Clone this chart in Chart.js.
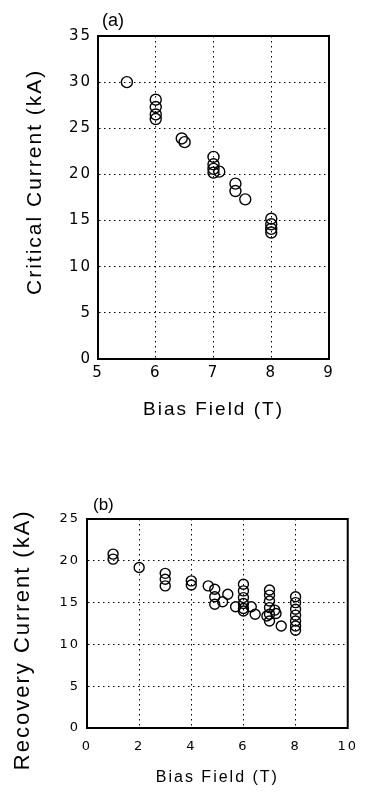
<!DOCTYPE html>
<html>
<head>
<meta charset="utf-8">
<script src="https://cdn.jsdelivr.net/npm/chart.js@4/dist/chart.umd.min.js"></script>
<style>
  html, body { margin: 0; padding: 0; background: #fff; }
  body { width: 367px; height: 795px; position: relative; overflow: hidden; }
  .wrap { position: absolute; left: 0; width: 367px; }
  #wa { top: 0; height: 430px; }
  #wb { top: 440px; height: 355px; }
</style>
</head>
<body>
<div class="wrap" id="wa"><canvas id="ca" width="367" height="430"></canvas></div>
<div class="wrap" id="wb"><canvas id="cb" width="367" height="355"></canvas></div>
<script>
// ---- Panel (a): critical current vs bias field ----
const critField   = [5.5, 6, 6, 6, 6, 6.45, 6.5, 7, 7, 7, 7, 7.1, 7.38, 7.38, 7.55, 8, 8, 8, 8];
const critCurrent = [30, 28.1, 27.3, 26.5, 26.0, 23.9, 23.5, 21.9, 21.1, 20.6, 20.2, 20.3, 19.0, 18.2, 17.3, 15.2, 14.6, 14.1, 13.7];
const critXTicks  = [5, 6, 7, 8, 9];
const critYTicks  = [0, 5, 10, 15, 20, 25, 30, 35];

// ---- Panel (b): recovery current vs bias field ----
const recField   = [1, 1, 2, 3, 3, 3, 4, 4, 4.65, 4.9, 4.9, 4.9, 5.2, 5.4, 5.7, 6, 6, 6, 6, 6, 6, 6.3, 6.45, 6.9, 7, 7, 7, 7, 7, 7, 7.2, 7.25, 7.45, 8, 8, 8, 8, 8, 8, 8];
const recCurrent = [20.8, 20.2, 19.2, 18.5, 17.8, 17.0, 17.6, 17.1, 17.0, 16.6, 15.7, 14.8, 15.1, 16.0, 14.5, 17.2, 16.4, 15.6, 14.9, 14.3, 14.0, 14.5, 13.6, 13.4, 16.5, 15.9, 15.2, 14.4, 13.6, 12.8, 14.1, 13.7, 12.2, 15.7, 15.0, 14.2, 13.5, 12.8, 12.2, 11.7];
const recXTicks  = [0, 2, 4, 6, 8, 10];
const recYTicks  = [0, 5, 10, 15, 20, 25];

const xTitle = 'Bias Field (T)';
const yTitleA = 'Critical Current (kA)';
const yTitleB = 'Recovery Current (kA)';

function pts(xs, ys) { return xs.map((x, i) => ({x: x, y: ys[i]})); }

const spacingPlugin = {
  id: 'spacing',
  beforeDraw(chart) { chart.ctx.letterSpacing = chart.options.plugins.spacing.titleLS; },
  afterDatasetsDraw(chart) { chart.ctx.letterSpacing = chart.options.plugins.spacing.tickLS; },
  afterDraw(chart) {
    const o = chart.options.plugins.spacing;
    const ctx = chart.ctx, a = chart.chartArea;
    ctx.save();
    ctx.letterSpacing = '0px';
    ctx.strokeStyle = '#000';
    ctx.lineWidth = 2;
    ctx.strokeRect(a.left, a.top, a.right - a.left, a.bottom - a.top);
    ctx.fillStyle = '#000';
    ctx.font = o.panelFont;
    ctx.textAlign = 'left';
    ctx.textBaseline = 'middle';
    ctx.fillText(o.panel, a.left + o.panelDX, a.top + o.panelDY);
    ctx.restore();
  }
};

function makeChart(id, cfg) {
  return new Chart(document.getElementById(id), {
    type: 'scatter',
    data: { datasets: [{
      data: pts(cfg.xs, cfg.ys),
      pointStyle: 'circle',
      pointRadius: cfg.r,
      pointHoverRadius: cfg.r,
      borderColor: '#000',
      backgroundColor: 'rgba(0,0,0,0)',
      borderWidth: 1.4
    }]},
    options: {
      responsive: false,
      animation: false,
      events: [],
      layout: { padding: cfg.pad },
      plugins: {
        legend: { display: false },
        tooltip: { enabled: false },
        spacing: cfg.sp
      },
      scales: {
        x: {
          type: 'linear', min: cfg.xTicks[0], max: cfg.xTicks[cfg.xTicks.length - 1],
          afterBuildTicks: s => { s.ticks = cfg.xTicks.map(v => ({value: v})); },
          afterFit: s => { s.height = cfg.xH; },
          grid: { color: '#000', lineWidth: 1, drawTicks: false },
          border: { color: '#000', width: 2, dash: [1.5, 3.5] },
          ticks: { color: '#000', padding: cfg.xPad, z: 1, maxRotation: 0,
                   font: { family: 'DejaVu Sans', size: cfg.xTickSize } },
          title: { display: true, text: xTitle, color: '#000',
                   font: { family: 'Liberation Sans', size: cfg.xTitleSize, lineHeight: 1 },
                   padding: { top: 0, bottom: cfg.xTitlePB } }
        },
        y: {
          type: 'linear', min: cfg.yTicks[0], max: cfg.yTicks[cfg.yTicks.length - 1],
          afterBuildTicks: s => { s.ticks = cfg.yTicks.map(v => ({value: v})); },
          afterFit: s => { s.width = cfg.yW; },
          grid: { color: '#000', lineWidth: 1, drawTicks: false },
          border: { color: '#000', width: 2, dash: [1.5, 3.5] },
          ticks: { color: '#000', padding: cfg.yPad, z: 1,
                   font: { family: 'DejaVu Sans', size: cfg.yTickSize } },
          title: { display: true, text: cfg.yTitle, color: '#000',
                   font: { family: 'Liberation Sans', size: cfg.yTitleSize, lineHeight: 1 },
                   padding: { top: cfg.yTitlePT, bottom: 0 } }
        }
      }
    },
    plugins: [spacingPlugin]
  });
}

makeChart('ca', {
  xs: critField, ys: critCurrent, r: 5.5,
  xTicks: critXTicks, yTicks: critYTicks,
  pad: { left: 0, right: 38, top: 36, bottom: 0 },
  xH: 71, yW: 98, xPad: 5, yPad: 6,
  xTickSize: 15, yTickSize: 15,
  xTitleSize: 19, xTitlePB: 10.5,
  yTitle: '    ' + yTitleA, yTitleSize: 21, yTitlePT: 25,
  sp: { titleLS: '2px', tickLS: '2px', panel: '(a)', panelFont: '18px "Liberation Sans"', panelDX: 4, panelDY: -15 }
});

makeChart('cb', {
  xs: recField, ys: recCurrent, r: 5,
  xTicks: recXTicks, yTicks: recYTicks,
  pad: { left: 0, right: 16, top: 79, bottom: 0 },
  xH: 67, yW: 87, xPad: 11, yPad: 7,
  xTickSize: 13, yTickSize: 13,
  xTitleSize: 16, xTitlePB: 9,
  yTitle: yTitleB + '    ', yTitleSize: 22, yTitlePT: 12,
  sp: { titleLS: '2px', tickLS: '2px', panel: '(b)', panelFont: '17px "Liberation Sans"', panelDX: 6, panelDY: -14 }
});
</script>
</body>
</html>
